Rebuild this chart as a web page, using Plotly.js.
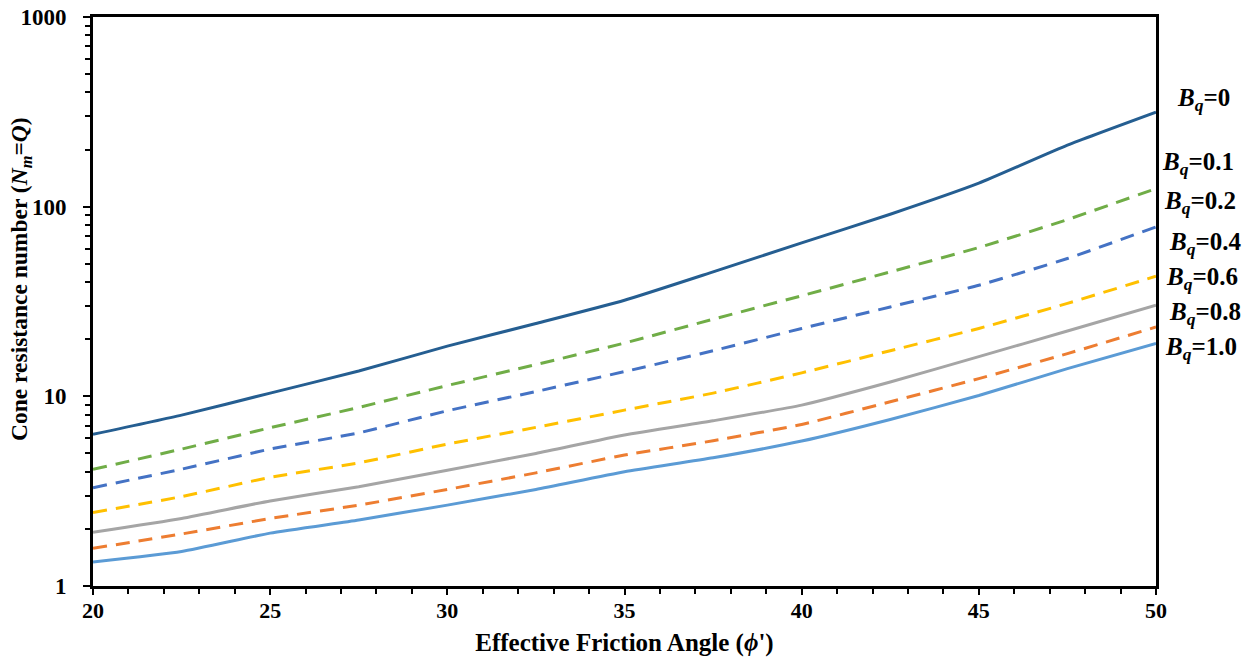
<!DOCTYPE html>
<html>
<head>
<meta charset="utf-8">
<script src="https://cdn.plot.ly/plotly-3.0.1.min.js"></script>
<style>
  html, body { margin: 0; padding: 0; background: #fff; }
  #chart { width: 1253px; height: 657px; }
</style>
</head>
<body>
<div id="chart"></div>
<script>
// Effective friction angle (degrees)
const phi = [20, 22.5, 25, 27.5, 30, 32.5, 35, 37.5, 40, 42.5, 45, 47.5, 50];

// Cone resistance number N_m = Q for each pore-pressure ratio B_q
const bq00 = [6.30, 7.96, 10.4, 13.6, 18.4, 24.2, 32.1, 45.3, 64.4, 91.2, 133, 211, 315];
const bq01 = [4.12, 5.27, 6.83, 8.74, 11.4, 14.7, 19.1, 25.5, 33.9, 45.3, 60.9, 85.5, 124.5];
const bq02 = [3.30, 4.13, 5.27, 6.42, 8.39, 10.6, 13.5, 17.4, 22.8, 29.6, 38.5, 53.3, 78.2];
const bq04 = [2.44, 2.96, 3.74, 4.46, 5.60, 6.86, 8.46, 10.4, 13.3, 17.4, 22.8, 30.9, 43.0];
const bq06 = [1.92, 2.27, 2.81, 3.34, 4.08, 5.00, 6.25, 7.43, 8.99, 11.9, 16.2, 22.1, 30.2];
const bq08 = [1.58, 1.88, 2.27, 2.67, 3.23, 3.95, 4.90, 5.83, 7.11, 9.36, 12.4, 16.8, 23.2];
const bq10 = [1.34, 1.52, 1.90, 2.23, 2.67, 3.23, 4.00, 4.74, 5.81, 7.55, 10.1, 14.0, 19.0];

const seriesNames = ['0', '0.1', '0.2', '0.4', '0.6', '0.8', '1.0'];

// Axis ticks
const xTicks = [20, 25, 30, 35, 40, 45, 50];
const yTicks = [1, 10, 100, 1000];
const yTickText = ['1', '10', '100', '1000'];

const FONT = 'Liberation Serif, Times New Roman, serif';
const DASH = '14px,9px';

const styles = [
  { color: '#255E91', dash: 'solid' },
  { color: '#70AD47', dash: DASH },
  { color: '#4472C4', dash: DASH },
  { color: '#FFC000', dash: DASH },
  { color: '#A5A5A5', dash: 'solid' },
  { color: '#ED7D31', dash: DASH },
  { color: '#5B9BD5', dash: 'solid' }
];
const allY = [bq00, bq01, bq02, bq04, bq06, bq08, bq10];

const traces = allY.map((ys, i) => ({
  x: phi,
  y: ys,
  type: 'scatter',
  mode: 'lines',
  name: 'Bq=' + seriesNames[i],
  line: { color: styles[i].color, width: 3, dash: styles[i].dash, shape: 'spline', smoothing: 0.5 },
  hoverinfo: 'skip',
  showlegend: false
}));

// minor tick positions on the log axis (2..9 in each decade)
const yMinor = [];
for (let d = 1; d <= 100; d *= 10) {
  for (let k = 2; k <= 9; k++) yMinor.push(k * d);
}
const xMinor = [];
for (let v = 20; v <= 50; v++) xMinor.push(v);

const plotL = 93, plotR = 1156, plotT = 17, plotB = 586;
const toPaperX = px => (px - plotL) / (plotR - plotL);
const toPaperY = py => (plotB - py) / (plotB - plotT);

// right-hand series labels (pixel centres)
const labelPos = [
  { x: 1203, y: 100 },
  { x: 1198, y: 163 },
  { x: 1200, y: 202 },
  { x: 1205, y: 243 },
  { x: 1202, y: 278 },
  { x: 1205, y: 313 },
  { x: 1201, y: 348 }
];
const annotations = labelPos.map((p, i) => ({
  xref: 'paper', yref: 'paper',
  x: toPaperX(p.x),
  y: toPaperY(p.y),
  xanchor: 'center', yanchor: 'middle',
  showarrow: false,
  text: '<b><i>B</i><sub><i>q</i></sub>=' + seriesNames[i] + '</b>',
  font: { family: FONT, size: 25, color: '#000' }
}));

// vertical axis title
annotations.push({
  xref: 'paper', yref: 'paper',
  x: toPaperX(21), y: toPaperY(279),
  xanchor: 'center', yanchor: 'middle',
  textangle: -90,
  showarrow: false,
  text: '<b>Cone resistance number (<i>N</i><sub><i>m</i></sub>=<i>Q</i>)</b>',
  font: { family: FONT, size: 23.5, color: '#000' }
});

const layout = {
  width: 1253,
  height: 657,
  paper_bgcolor: '#fff',
  plot_bgcolor: '#fff',
  margin: { l: plotL, r: 1253 - plotR, t: plotT, b: 657 - plotB, pad: 0 },
  showlegend: false,
  font: { family: FONT, color: '#000' },
  xaxis: {
    type: 'linear',
    range: [20, 50],
    tickvals: xTicks,
    ticktext: xTicks.map(v => '<b>' + v + '</b>'),
    ticks: 'outside',
    ticklen: 6,
    tickwidth: 2,
    tickcolor: '#000',
    ticklabelstandoff: -3,
    minor: { tickvals: xMinor, ticks: 'outside', ticklen: 5, tickwidth: 2, tickcolor: '#000', showgrid: false },
    showline: true,
    linewidth: 3,
    linecolor: '#000',
    mirror: true,
    showgrid: false,
    zeroline: false,
    tickfont: { family: FONT, size: 22, color: '#000' },
    title: {
      text: '<b>Effective Friction Angle (<i>ϕ</i>\')</b>',
      font: { family: FONT, size: 25, color: '#000' },
      standoff: 12
    }
  },
  yaxis: {
    type: 'log',
    range: [0, 3],
    tickvals: yTicks,
    ticktext: yTickText.map(t => '<b>' + t + '</b>'),
    ticks: 'outside',
    ticklen: 7,
    tickwidth: 2,
    tickcolor: '#000',
    ticklabelstandoff: 12,
    minor: { tickvals: yMinor, ticks: 'outside', ticklen: 5, tickwidth: 2, tickcolor: '#000', showgrid: false },
    showline: true,
    linewidth: 3,
    linecolor: '#000',
    mirror: true,
    showgrid: false,
    zeroline: false,
    tickfont: { family: FONT, size: 23, color: '#000' }
  },
  annotations: annotations
};

Plotly.newPlot('chart', traces, layout, { displayModeBar: false, staticPlot: true });
</script>
</body>
</html>
